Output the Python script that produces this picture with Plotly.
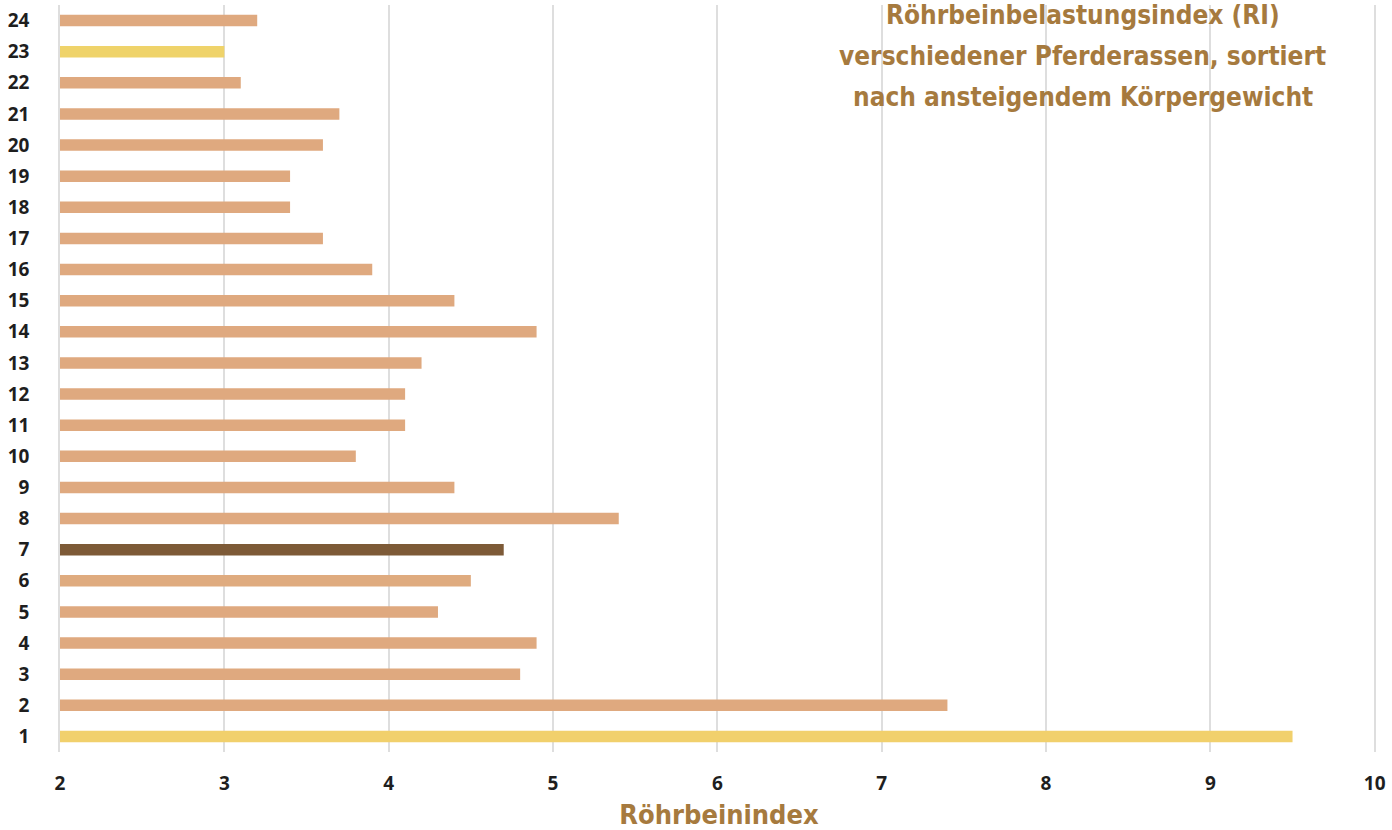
import plotly.graph_objects as go

# Röhrbeinindex per horse breed (1 = lightest ... 24 = heaviest)
breeds = [str(i) for i in range(1, 25)]
index_values = [9.5, 7.4, 4.8, 4.9, 4.3, 4.5, 4.7, 5.4, 4.4, 3.8,
                4.1, 4.1, 4.2, 4.9, 4.4, 3.9, 3.6, 3.4, 3.4, 3.6,
                3.7, 3.1, 3.0, 3.2]
bar_colors = ["#f1d06c", "#dfa97f", "#dfa97f", "#dfa97f", "#dfa97f",
              "#dfab7f", "#7d5a37", "#dfa97f", "#dfa97f", "#dfa97f",
              "#dfa97f", "#dfa97f", "#dfa97f", "#dfa97f", "#dfa97f",
              "#dfa97f", "#dfa97f", "#dfa97f", "#dfa97f", "#dfa97f",
              "#dfa97f", "#dfa97f", "#efd36a", "#dfa97f"]
x_ticks = [2, 3, 4, 5, 6, 7, 8, 9, 10]
title_lines = [
    "Röhrbeinbelastungsindex (RI)",
    "verschiedener Pferderassen, sortiert",
    "nach ansteigendem Körpergewicht",
]

brown = "#a67a3e"
condensed = "DejaVu Sans Condensed, Liberation Sans Narrow, sans-serif"
label_font = "Open Sans, Lato, sans-serif"

fig = go.Figure(go.Bar(
    x=index_values,
    y=breeds,
    orientation="h",
    marker=dict(color=bar_colors, line=dict(width=0)),
    width=0.37,
    hoverinfo="x+y",
))

# white panel behind the heading, hiding the grid lines there
fig.add_shape(
    type="rect", xref="paper", yref="paper",
    x0=0.578, x1=0.993, y0=0.84, y1=1.01,
    fillcolor="white", line=dict(width=0), layer="between",
)

title_y = [0.9866, 0.9317, 0.8768]
for line, yy in zip(title_lines, title_y):
    fig.add_annotation(
        text=f"<b>{line}</b>",
        xref="paper", yref="paper",
        x=0.776, y=yy,
        xanchor="center", yanchor="middle",
        showarrow=False,
        font=dict(family=condensed, size=26, color=brown),
    )

fig.update_layout(
    width=1392, height=830,
    margin=dict(l=60, r=14, t=5, b=78),
    paper_bgcolor="white",
    plot_bgcolor="white",
    showlegend=False,
    xaxis=dict(
        range=[2, 10.02],
        tickvals=x_ticks,
        ticktext=[str(v) for v in x_ticks],
        showgrid=True,
        gridcolor="#dedede",
        gridwidth=1.5,
        zeroline=False,
        showline=False,
        ticks="",
        automargin=False,
        ticklabelstandoff=18,
        tickfont=dict(family=label_font, size=19, color="#1e1e1e", weight="bold"),
        title=dict(
            text="<b>Röhrbeinindex</b>",
            font=dict(family=condensed, size=27, color=brown),
            standoff=10,
        ),
    ),
    yaxis=dict(
        type="category",
        categoryorder="array",
        categoryarray=breeds,
        range=[-0.5, 23.5],
        showgrid=False,
        zeroline=False,
        showline=True,
        linecolor="#dedede",
        linewidth=1.5,
        ticks="",
        automargin=False,
        ticklabelstandoff=25,
        tickfont=dict(family=label_font, size=19, color="#1e1e1e", weight="bold"),
    ),
)

fig.write_html("out.html")
